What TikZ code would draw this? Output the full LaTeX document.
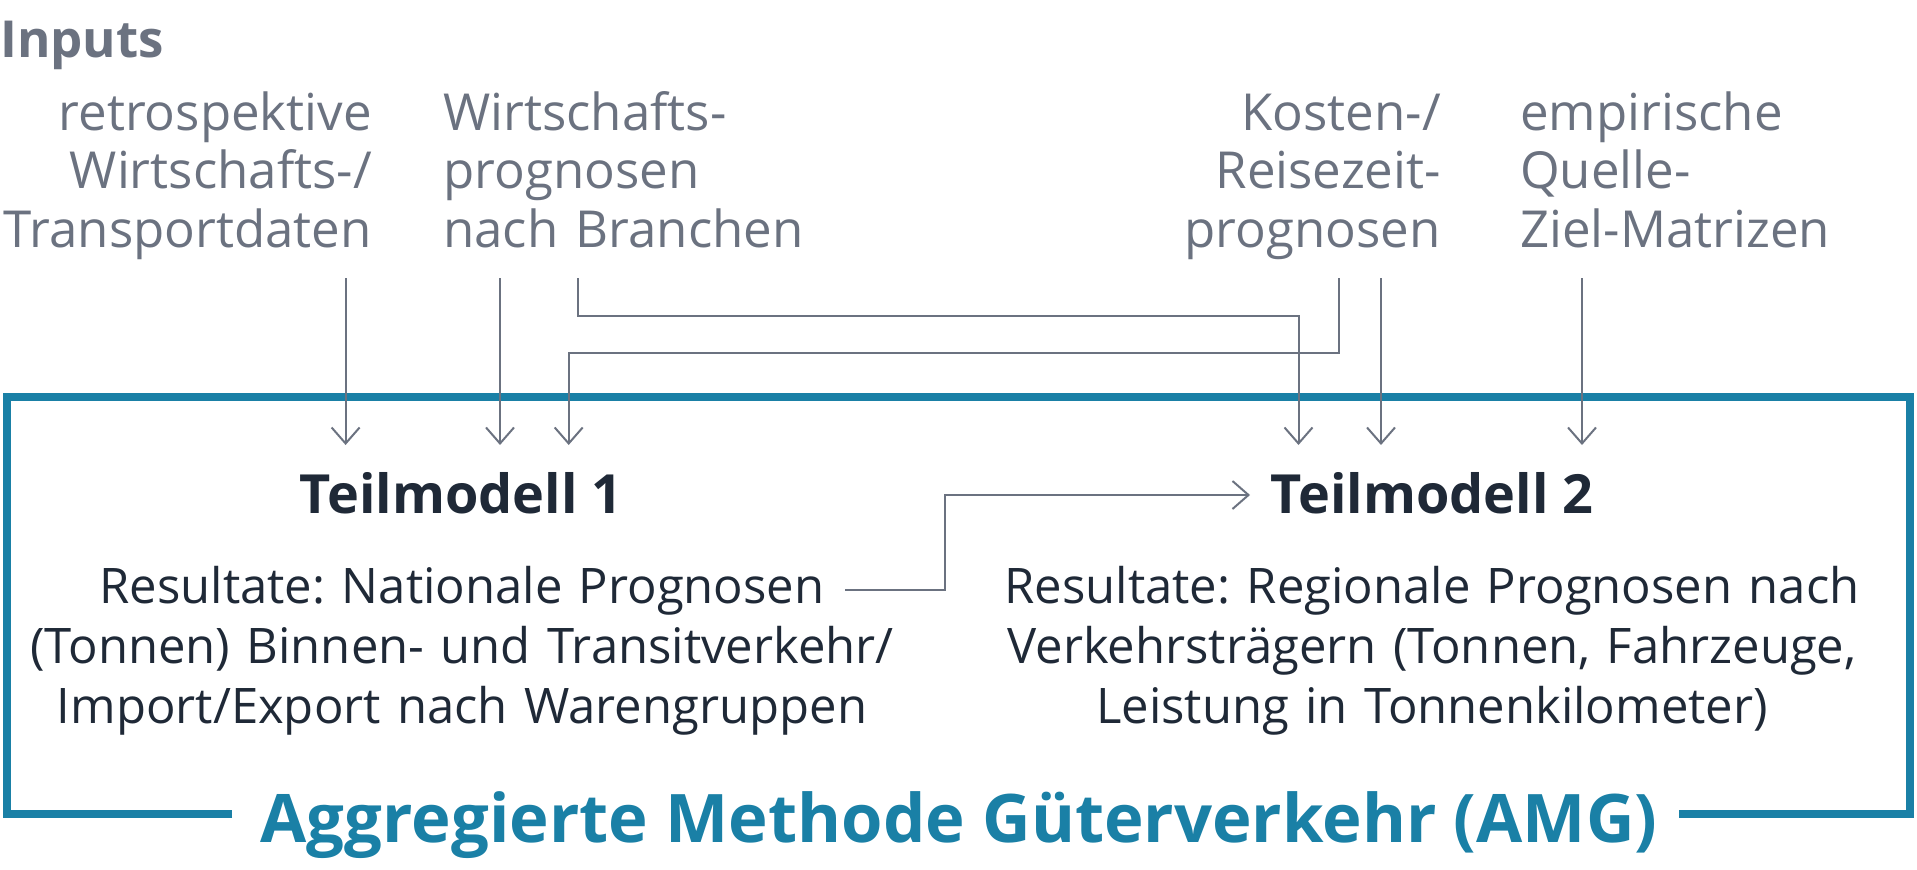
\documentclass[tikz,border=0pt]{standalone}
\usepackage{fontspec}
\setmainfont{Open Sans}
\frenchspacing
\usetikzlibrary{arrows.meta}
\definecolor{ingray}{HTML}{6B7280}
\definecolor{darktext}{HTML}{1F2937}
\definecolor{teal}{HTML}{1A80A6}
\begin{document}
\begin{tikzpicture}[x=1pt,y=-1pt,
  inp/.style={inner sep=0pt, text=ingray, font=\fontsize{51}{58.5}\selectfont, text width=420pt},
  head/.style={inner sep=0pt, text=darktext, font=\fontsize{54}{60}\selectfont\bfseries, anchor=base},
  res/.style={inner sep=0pt, text=darktext, font=\fontsize{49}{60}\selectfont, text width=920pt, align=center, anchor=base},
  conn/.style={draw=ingray, line width=2pt, -{Straight Barb[length=16pt,width=28pt,line width=2pt]}},
  frame/.style={draw=teal, line width=8pt}
]
\useasboundingbox (0,0) rectangle (1917,870);
% Title and frame
\node[inner sep=0pt, anchor=base, text=teal, font=\fontsize{67}{72}\selectfont\bfseries] (title) at (959,842) {Aggregierte Methode Güterverkehr (AMG)};
\draw[frame] (232,814) -- (7,814) -- (7,397) -- (1910,397) -- (1910,814) -- (1679,814);
% Inputs
\node[inner sep=0pt, anchor=base west, text=ingray, font=\fontsize{51}{58}\selectfont\bfseries] (inputs) at (0,57) {Inputs};
\node[inp, align=right, anchor=base east] (in1) at (372,130) {retrospektive\\Wirtschafts-/\\Transportdaten};
\node[inp, align=left, anchor=base west] (in2) at (443,130) {Wirtschafts-\\prognosen\\nach Branchen};
\node[inp, align=right, anchor=base east] (in3) at (1441,130) {Kosten-/\\Reisezeit-\\prognosen};
\node[inp, align=left, anchor=base west] (in4) at (1520,130) {empirische\\Quelle-\\Ziel-Matrizen};
% Teilmodelle
\node[head] (tm1) at (461,513) {Teilmodell 1};
\node[head] (tm2) at (1432,513) {Teilmodell 2};
\node[res] (res1) at (462,603) {Resultate: Nationale Prognosen\\(Tonnen) Binnen- und Transitverkehr/\\Import/Export nach Warengruppen};
\node[res] (res2) at (1432,603) {Resultate: Regionale Prognosen nach\\Verkehrsträgern (Tonnen, Fahrzeuge,\\Leistung in Tonnenkilometer)};
% connector points
\coordinate (s1) at (345.6,278);
\coordinate (s2) at (500,278);
\coordinate (s3) at (578,278);
\coordinate (s4) at (1338.5,278);
\coordinate (s5) at (1381,278);
\coordinate (s6) at (1582,278);
\coordinate (t1) at (345.6,445);
\coordinate (t2) at (500,445);
\coordinate (t3) at (568.7,445);
\coordinate (t4) at (1298.5,445);
\coordinate (t5) at (1381,445);
\coordinate (t6) at (1582,445);
\coordinate (r1) at (845,590);
\coordinate (r2) at (1250,495);
\draw[conn] (s1) -- (t1);
\draw[conn] (s2) -- (t2);
\draw[conn] (s3) |- (1298.5,316) -- (t4);
\draw[conn] (s4) |- (568.7,352.7) -- (t3);
\draw[conn] (s5) -- (t5);
\draw[conn] (s6) -- (t6);
\draw[conn] (r1) -- (945,590) |- (r2);
\end{tikzpicture}
\end{document}
